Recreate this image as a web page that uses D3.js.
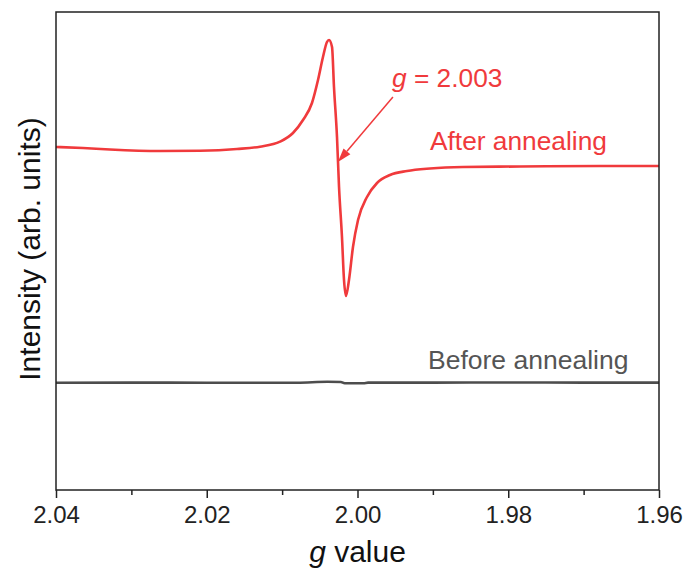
<!DOCTYPE html>
<html>
<head>
<meta charset="utf-8">
<script src="https://cdn.jsdelivr.net/npm/d3@7"></script>
<style>
  html, body { margin: 0; padding: 0; background: #fff; }
  svg { display: block; font-family: "Liberation Sans", Arial, sans-serif; }
</style>
</head>
<body>
<svg id="chart" width="691" height="575"></svg>
<script>
// EPR spectra: g value vs. intensity (arbitrary units)
const afterG = [2.0400, 2.03642, 2.03284, 2.02620, 2.02090, 2.01599, 2.01294, 2.01028, 2.00856,
  2.00723, 2.00604, 2.00524, 2.00458, 2.00405, 2.00378, 2.00338, 2.00312, 2.00272, 2.00245,
  2.00206, 2.00179, 2.00153, 2.00113, 2.00060, 1.99993, 1.99874, 1.99741, 1.99569, 1.99343,
  1.99038, 1.98600, 1.97844, 1.96783, 1.9600];
const afterI = [3.43, 3.42, 3.405, 3.39, 3.393, 3.41, 3.433, 3.483, 3.57,
  3.70, 3.87, 4.10, 4.33, 4.48, 4.50, 4.43, 4.03, 3.53, 3.03,
  2.53, 2.10, 1.94, 2.10, 2.43, 2.70, 2.93, 3.07, 3.15, 3.19,
  3.215, 3.23, 3.235, 3.24, 3.24];

const beforeG = [2.0400, 2.0300, 2.0200, 2.0080, 2.0040, 2.0022, 2.0017, 1.9992, 1.9986, 1.9900, 1.9800, 1.9700, 1.9600];
const beforeI = [1.073, 1.074, 1.073, 1.073, 1.082, 1.080, 1.068, 1.068, 1.074, 1.074, 1.075, 1.074, 1.074];

const xTicks = [2.04, 2.02, 2.00, 1.98, 1.96];
const xMinorTicks = [2.03, 2.01, 1.99, 1.97];

// Annotation: resonance position marker
const markG = 2.003;
const arrowTip = { g: 2.0026, i: 3.28 };
const arrowTail = { g: 1.9953, i: 3.93 };

const red = "#f03a3c";
const grey = "#4d4d4d";

const margin = { left: 56, right: 32, top: 12, bottom: 85 };
const W = 691, H = 575;
const svg = d3.select("#chart");

const x = d3.scaleLinear().domain([2.04, 1.96]).range([margin.left, W - margin.right]);
const y = d3.scaleLinear().domain([0, 4.78]).range([H - margin.bottom, margin.top]);

const line = d3.line()
  .x(d => x(d[0]))
  .y(d => y(d[1]))
  .curve(d3.curveMonotoneX);

svg.append("clipPath").attr("id", "plotclip")
  .append("rect")
  .attr("x", margin.left).attr("y", margin.top)
  .attr("width", W - margin.left - margin.right)
  .attr("height", H - margin.top - margin.bottom);

const plot = svg.append("g").attr("clip-path", "url(#plotclip)");

plot.append("path")
  .datum(d3.zip(beforeG, beforeI))
  .attr("fill", "none")
  .attr("stroke", grey)
  .attr("stroke-width", 2.6)
  .attr("d", line);

plot.append("path")
  .datum(d3.zip(afterG, afterI))
  .attr("fill", "none")
  .attr("stroke", red)
  .attr("stroke-width", 2.6)
  .attr("stroke-linejoin", "round")
  .attr("d", line);

// frame
svg.append("rect")
  .attr("x", margin.left).attr("y", margin.top)
  .attr("width", W - margin.left - margin.right)
  .attr("height", H - margin.top - margin.bottom)
  .attr("fill", "none")
  .attr("stroke", "#222")
  .attr("stroke-width", 1.5);

// bottom axis
const xAxis = svg.append("g")
  .attr("transform", `translate(0,${H - margin.bottom})`)
  .call(d3.axisBottom(x).tickValues(xTicks).tickFormat(d3.format(".2f")).tickSize(8).tickPadding(8));
xAxis.select(".domain").remove();
xAxis.selectAll(".tick line").attr("stroke", "#222").attr("stroke-width", 1.5);
xAxis.selectAll(".tick text")
  .attr("font-size", 24)
  .attr("fill", "#222")
  .style("font-family", "'Liberation Sans', Arial, sans-serif");

const xMinor = svg.append("g")
  .attr("transform", `translate(0,${H - margin.bottom})`)
  .call(d3.axisBottom(x).tickValues(xMinorTicks).tickFormat("").tickSize(5));
xMinor.select(".domain").remove();
xMinor.selectAll(".tick line").attr("stroke", "#222").attr("stroke-width", 1.5);

// axis titles
const xTitle = svg.append("text")
  .attr("x", (margin.left + W - margin.right) / 2)
  .attr("y", 562)
  .attr("text-anchor", "middle")
  .attr("font-size", 30)
  .attr("fill", "#111");
xTitle.append("tspan").attr("font-style", "italic").text("g");
xTitle.append("tspan").text(" value");

svg.append("text")
  .attr("transform", `translate(40,249) rotate(-90)`)
  .attr("text-anchor", "middle")
  .attr("font-size", 30)
  .attr("fill", "#111")
  .text("Intensity (arb. units)");

// series labels
svg.append("text")
  .attr("x", 430).attr("y", 150)
  .attr("font-size", 26.3)
  .attr("fill", red)
  .text("After annealing");

svg.append("text")
  .attr("x", 428).attr("y", 369)
  .attr("font-size", 26.5)
  .attr("fill", "#555")
  .text("Before annealing");

// g marker annotation
const gLabel = svg.append("text")
  .attr("x", 392).attr("y", 87)
  .attr("font-size", 26.3)
  .attr("fill", red);
gLabel.append("tspan").attr("font-style", "italic").text("g");
gLabel.append("tspan").text(" = " + markG.toFixed(3));

const tx = x(arrowTip.g), ty = y(arrowTip.i);
const sx = x(arrowTail.g), sy = y(arrowTail.i);
const ang = Math.atan2(ty - sy, tx - sx);
const headLen = 14, headW = 4.5;
const bx = tx - headLen * Math.cos(ang), by = ty - headLen * Math.sin(ang);

svg.append("line")
  .attr("x1", sx).attr("y1", sy)
  .attr("x2", bx).attr("y2", by)
  .attr("stroke", red)
  .attr("stroke-width", 1.5);

svg.append("path")
  .attr("d", d3.line()([
    [tx, ty],
    [bx + headW * Math.sin(ang), by - headW * Math.cos(ang)],
    [bx - headW * Math.sin(ang), by + headW * Math.cos(ang)]
  ]) + "Z")
  .attr("fill", red);
</script>
</body>
</html>
